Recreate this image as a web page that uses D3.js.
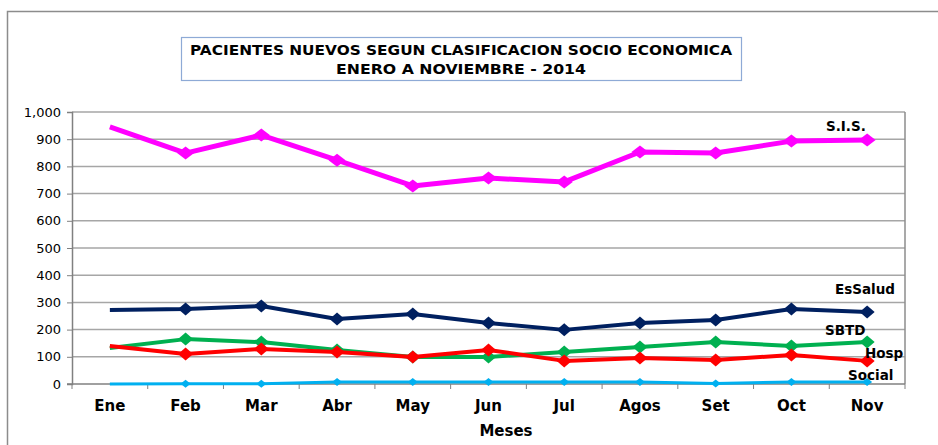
<!DOCTYPE html>
<html>
<head>
<meta charset="utf-8">
<script src="https://cdn.jsdelivr.net/npm/d3@7"></script>
<style>
  body { margin: 0; background: #fff; }
  svg text { font-family: Verdana, "DejaVu Sans", sans-serif; }
  .tick-y { font-size: 13px; fill: #000; }
  .tick-x { font-size: 15px; font-weight: bold; fill: #000; }
  .series-label { font-size: 13.5px; font-weight: bold; fill: #000; }
  .title { font-size: 14.5px; font-weight: bold; fill: #000; }
</style>
</head>
<body>
<div id="vis"></div>
<script>
'use strict';

//months on the x axis
var months = ['Ene', 'Feb', 'Mar', 'Abr', 'May', 'Jun', 'Jul', 'Agos', 'Set', 'Oct', 'Nov'];
var yTicks = [0, 100, 200, 300, 400, 500, 600, 700, 800, 900, 1000];

//values
var sis     = [945, 849, 915, 823, 728, 757, 743, 853, 849, 893, 897];
var essalud = [272, 276, 287, 239, 257, 224, 199, 224, 235, 276, 265];
var sbtd    = [132, 165, 154, 125, 99, 99, 118, 136, 154, 140, 154];
var hosp    = [140, 110, 129, 118, 99, 125, 85, 96, 88, 107, 85];
var social  = [0, 1, 1, 7, 7, 7, 7, 7, 2, 7, 7];

var seriesNames = ['S.I.S.', 'EsSalud', 'SBTD', 'Hosp', 'Social'];
var seriesValues = [sis, essalud, sbtd, hosp, social];

//styles kept apart from data
var styles = {
    'S.I.S.': { color: '#ff00ff', width: 5, mw: 8.5, mh: 6.5, label: [826, 131] },
    'EsSalud': { color: '#002060', width: 4, mw: 7.5, mh: 6.5, label: [835, 294] },
    'SBTD': { color: '#00b050', width: 4, mw: 7.5, mh: 6.5, label: [825, 335] },
    'Hosp': { color: '#ff0000', width: 4, mw: 7.5, mh: 6.5, label: [865, 358] },
    'Social': { color: '#00b0f0', width: 3, mw: 5, mh: 4, label: [848, 380] }
};

var W = 938, H = 445;
var plot = { left: 72, right: 905, top: 112, bottom: 384 };

var svg = d3.select('#vis').append('svg')
    .attr('width', W)
    .attr('height', H);

//outer frame (only top and left visible)
svg.append('path')
    .attr('d', 'M7.5,' + (H + 5) + 'V11.5H' + (W + 5))
    .attr('fill', 'none')
    .attr('stroke', '#8c8c8c')
    .attr('stroke-width', 1.5);

//title box
svg.append('rect')
    .attr('x', 181.5).attr('y', 37.5)
    .attr('width', 560).attr('height', 43)
    .attr('fill', '#fff')
    .attr('stroke', '#8eaad6')
    .attr('stroke-width', 1.2);
svg.append('text').attr('class', 'title')
    .attr('x', 461).attr('y', 55)
    .attr('text-anchor', 'middle')
    .attr('textLength', 542).attr('lengthAdjust', 'spacingAndGlyphs')
    .text('PACIENTES  NUEVOS  SEGUN  CLASIFICACION  SOCIO  ECONOMICA');
svg.append('text').attr('class', 'title')
    .attr('x', 461).attr('y', 74)
    .attr('text-anchor', 'middle')
    .attr('textLength', 250).attr('lengthAdjust', 'spacingAndGlyphs')
    .text('ENERO  A  NOVIEMBRE   - 2014');

var x = d3.scaleBand().domain(months).range([plot.left, plot.right]);
var y = d3.scaleLinear().domain([0, 1000]).range([plot.bottom, plot.top]);
var cx = function (m) { return x(m) + x.bandwidth() / 2; };

//grid lines
svg.append('g').selectAll('line')
    .data(yTicks.filter(function (t) { return t > 0; }))
    .join('line')
    .attr('x1', plot.left).attr('x2', plot.right)
    .attr('y1', function (d) { return y(d); })
    .attr('y2', function (d) { return y(d); })
    .attr('stroke', '#a6a6a6')
    .attr('stroke-width', 1.5);

//right border of plot area
svg.append('line')
    .attr('x1', plot.right).attr('x2', plot.right)
    .attr('y1', plot.top).attr('y2', plot.bottom)
    .attr('stroke', '#8c8c8c').attr('stroke-width', 1.5);

//y axis
var yAxis = d3.axisLeft(y).tickValues(yTicks).tickSize(5).tickPadding(6)
    .tickFormat(d3.format(','));
var gy = svg.append('g')
    .attr('transform', 'translate(' + plot.left + ',0)')
    .call(yAxis);
gy.select('.domain').attr('stroke', '#808080').attr('stroke-width', 1.5);
gy.selectAll('.tick line').attr('stroke', '#808080');
gy.selectAll('.tick text').attr('class', 'tick-y').style('font-family', null).attr('font-size', null);

//x axis: ticks on band edges
var gx = svg.append('g');
gx.append('line')
    .attr('x1', plot.left - 5).attr('x2', plot.right)
    .attr('y1', plot.bottom).attr('y2', plot.bottom)
    .attr('stroke', '#808080').attr('stroke-width', 1.5);
gx.selectAll('.xt')
    .data(months.concat(['end']))
    .join('line')
    .attr('x1', function (d, i) { return plot.left + i * x.bandwidth(); })
    .attr('x2', function (d, i) { return plot.left + i * x.bandwidth(); })
    .attr('y1', plot.bottom).attr('y2', plot.bottom + 5)
    .attr('stroke', '#808080');
gx.selectAll('text')
    .data(months)
    .join('text')
    .attr('class', 'tick-x')
    .attr('x', cx)
    .attr('y', 411)
    .attr('text-anchor', 'middle')
    .text(function (d) { return d; });

svg.append('text').attr('class', 'tick-x')
    .attr('x', 506).attr('y', 436)
    .attr('text-anchor', 'middle')
    .text('Meses');

//series, drawn bottom first so S.I.S. ends on top
var line = d3.line()
    .x(function (d, i) { return cx(months[i]); })
    .y(function (d) { return y(d); });

[4, 2, 3, 1, 0].forEach(function (k) {
    var name = seriesNames[k];
    var st = styles[name];
    var vals = seriesValues[k];
    svg.append('path')
        .datum(vals)
        .attr('d', line)
        .attr('fill', 'none')
        .attr('stroke', st.color)
        .attr('stroke-width', st.width)
        .attr('stroke-linejoin', 'round');
    svg.append('g').selectAll('path')
        .data(vals.slice(1))
        .join('path')
        .attr('d', function (d, i) {
            var px = cx(months[i + 1]), py = y(d);
            return 'M' + (px - st.mw) + ',' + py + 'L' + px + ',' + (py - st.mh) +
                'L' + (px + st.mw) + ',' + py + 'L' + px + ',' + (py + st.mh) + 'Z';
        })
        .attr('fill', st.color);
});

//series labels
svg.append('g').selectAll('text')
    .data(seriesNames)
    .join('text')
    .attr('class', 'series-label')
    .attr('x', function (d) { return styles[d].label[0]; })
    .attr('y', function (d) { return styles[d].label[1]; })
    .text(function (d) { return d; });
</script>
</body>
</html>
